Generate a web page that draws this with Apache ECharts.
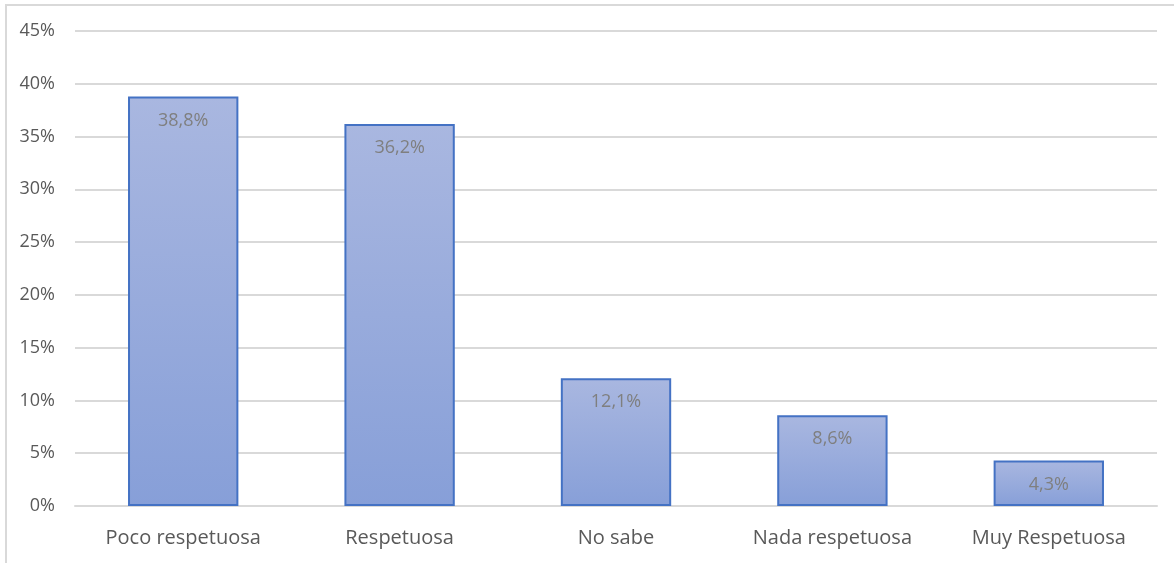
<!DOCTYPE html>
<html><head><meta charset="utf-8">
<script src="https://cdn.jsdelivr.net/npm/echarts@6/dist/echarts.min.js"></script>
<style>html,body{margin:0;padding:0;background:#fff}#c{width:1174px;height:563px}</style>
</head><body><div id="c"></div>
<script>
const categories = ['Poco respetuosa','Respetuosa','No sabe','Nada respetuosa','Muy Respetuosa'];
const values = [38.8, 36.2, 12.1, 8.6, 4.3];
const yTicks = [0,5,10,15,20,25,30,35,40,45];

const chart = echarts.init(document.getElementById('c'));
chart.setOption({
  animation:false,
  graphic:[{type:'rect',shape:{x:6,y:5,width:1200,height:600},style:{fill:'none',stroke:'#d9d9d9',lineWidth:2},silent:true}],
  grid:{left:75,right:17,top:31,bottom:57},
  xAxis:{type:'category',data:categories,
    axisLine:{show:true,lineStyle:{color:'#d9d9d9',width:2}},axisTick:{show:false},
    axisLabel:{color:'#595959',fontSize:20,fontFamily:'Open Sans',margin:22}},
  yAxis:{type:'value',min:0,max:45,interval:5,
    axisLine:{show:false},axisTick:{show:false},
    splitLine:{lineStyle:{color:'#d9d9d9',width:2}},
    axisLabel:{color:'#595959',fontSize:18,fontFamily:'Open Sans',margin:20,formatter:v=>v+'%'}},
  series:[{type:'bar',data:values,barWidth:'51%',
    itemStyle:{color:new echarts.graphic.LinearGradient(0,0,0,1,[{offset:0,color:'#a9b7e0'},{offset:1,color:'#879fd8'}]),
      borderColor:'#4472c4',borderWidth:2},
    label:{show:true,position:'insideTop',distance:15,color:'#7f7f7f',fontSize:18,fontFamily:'Open Sans',
      formatter:p=>p.value.toFixed(1).replace('.',',')+'%'}}]
});
</script></body></html>
